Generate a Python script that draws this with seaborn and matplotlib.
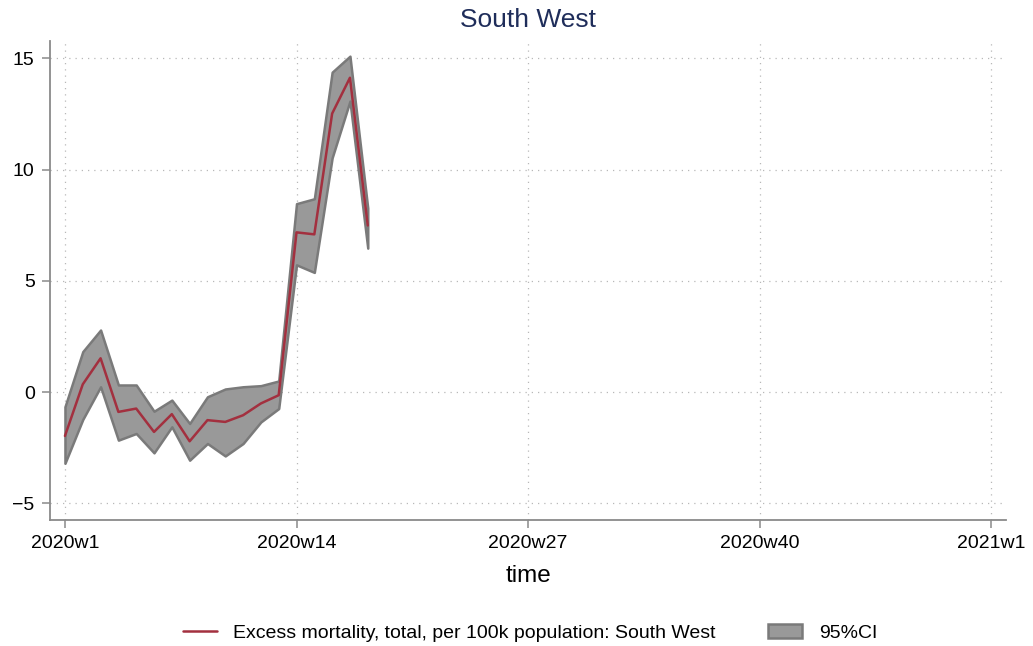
import numpy as np
import pandas as pd
import matplotlib
matplotlib.use("Agg")
import matplotlib.pyplot as plt
import seaborn as sns

# weeks 2020w1 .. 2020w18
weeks = list(range(1, 19))
excess = [-1.97, 0.35, 1.52, -0.89, -0.74, -1.79, -0.99, -2.21, -1.26,
          -1.34, -1.04, -0.51, -0.14, 7.18, 7.09, 12.52, 14.13, 7.49]
ci_upper = [-0.66, 1.82, 2.79, 0.32, 0.32, -0.86, -0.36, -1.41, -0.21,
            0.14, 0.24, 0.29, 0.50, 8.47, 8.69, 14.38, 15.10, 8.27]
ci_lower = [-3.20, -1.23, 0.24, -2.16, -1.86, -2.73, -1.56, -3.06, -2.31,
            -2.87, -2.31, -1.34, -0.74, 5.72, 5.38, 10.53, 13.08, 6.47]

tick_pos = [1, 14, 27, 40, 53]
tick_labels = ["2020w1", "2020w14", "2020w27", "2020w40", "2021w1"]
y_ticks = [-5, 0, 5, 10, 15]

df = pd.DataFrame({"week": weeks, "excess": excess,
                   "lo": ci_lower, "hi": ci_upper})

sns.set_style("white")
plt.rcParams["font.family"] = ["Liberation Sans", "DejaVu Sans"]
plt.rcParams["text.color"] = "black"
plt.rcParams["xtick.labelcolor"] = "black"
plt.rcParams["ytick.labelcolor"] = "black"
plt.rcParams["axes.labelcolor"] = "black"

fig = plt.figure(figsize=(10.33, 6.46), dpi=100)
ax = fig.add_axes([0.0484, 0.195, 0.9256, 0.7415])

ax.fill_between(df["week"], df["lo"], df["hi"], facecolor="#999999",
                edgecolor="#7a7a7a", linewidth=1.8, label="95%CI", zorder=2)
sns.lineplot(data=df, x="week", y="excess", ax=ax, color="#a3303f",
             linewidth=1.8, zorder=3,
             label="Excess mortality, total, per 100k population: South West")

ax.set_xlim(0.16, 53.84)
ax.set_ylim(-5.75, 15.78)
ax.set_xticks(tick_pos)
ax.set_xticklabels(tick_labels)
ax.set_yticks(y_ticks)
ax.set_yticklabels(["\u22125", "0", "5", "10", "15"])
ax.tick_params(axis="both", labelsize=14, length=6, width=1.1,
               color="#8a8a8a", direction="out", pad=5)
ax.tick_params(axis="both", which="both", bottom=True, left=True)

ax.grid(True, color="#b8b8b8", linestyle=(0, (1, 4)), linewidth=0.9)
for s in ["top", "right"]:
    ax.spines[s].set_visible(False)
for s in ["left", "bottom"]:
    ax.spines[s].set_color("#8a8a8a")
    ax.spines[s].set_linewidth(1.3)

ax.set_xlabel("time", fontsize=17.5, labelpad=9)
ax.set_ylabel("")
ax.set_title("South West", fontsize=19, color="#1f2d5a", pad=10)

handles, labels = ax.get_legend_handles_labels()
order = [labels.index(l) for l in
         ["Excess mortality, total, per 100k population: South West", "95%CI"]]
ax.get_legend().remove()
fig.legend([handles[i] for i in order], [labels[i] for i in order],
           loc="lower center", bbox_to_anchor=(0.513, -0.021), ncol=2,
           frameon=False, fontsize=14, columnspacing=2.7, handlelength=1.75,
           handletextpad=0.85)

fig.savefig("out.png", dpi=100)
